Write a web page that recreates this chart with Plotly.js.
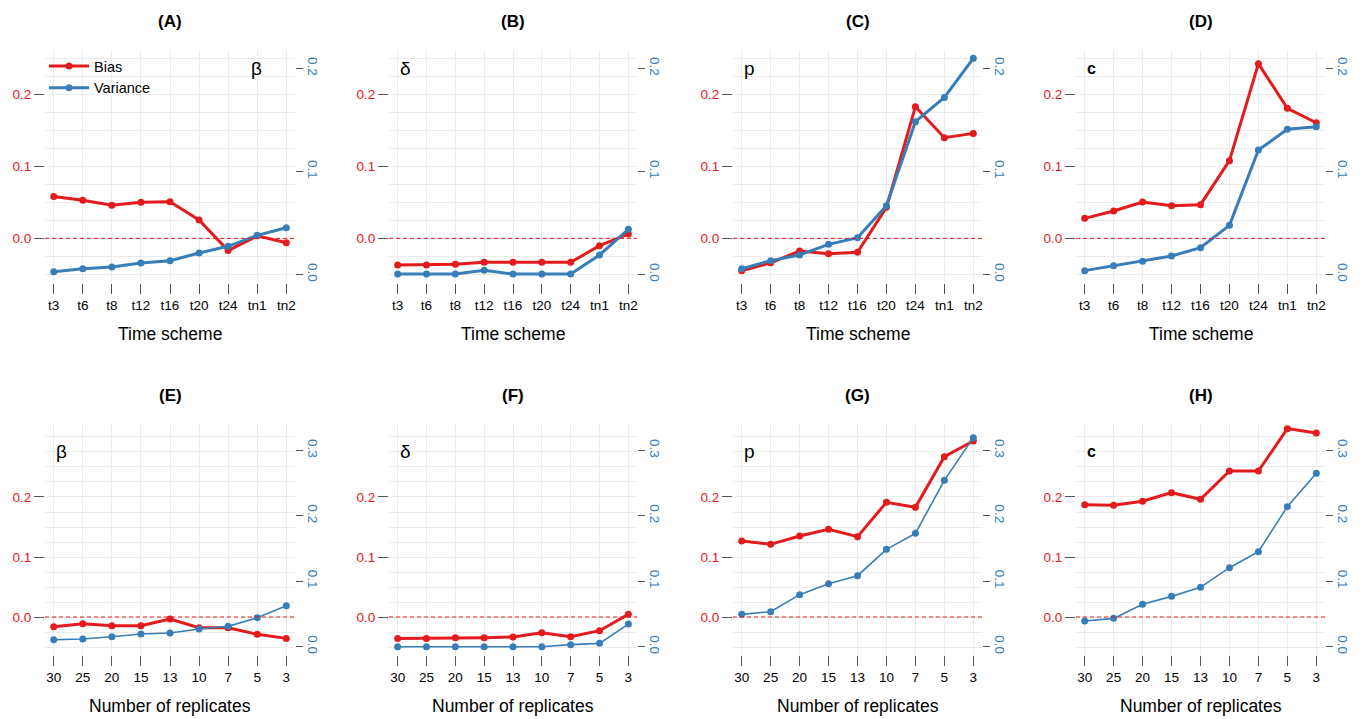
<!DOCTYPE html>
<html>
<head>
<meta charset="utf-8">
<script src="https://cdn.plot.ly/plotly-3.0.1.min.js"></script>
<style>html,body{margin:0;padding:0;background:#fff;}#chart{width:1364px;height:719px;}</style>
</head>
<body>
<div id="chart"></div>
<script>
// ---------- DATA ----------
const timeSchemes = ['t3','t6','t8','t12','t16','t20','t24','tn1','tn2'];
const replicates  = ['30','25','20','15','13','10','7','5','3'];

const panelLetters = ['(A)','(B)','(C)','(D)','(E)','(F)','(G)','(H)'];
const paramLabels  = ['β','δ','p','c','β','δ','p','c'];

// Top row: time scheme
const biasA = [0.058, 0.053, 0.046, 0.050, 0.051, 0.0255, -0.017, 0.0035, -0.006];
const varA  = [0.0026, 0.0055, 0.0071, 0.011, 0.0133, 0.0207, 0.0272, 0.0379, 0.0453];
const biasB = [-0.037, -0.037, -0.036, -0.0333, -0.0333, -0.0333, -0.0333, -0.0102, 0.006];
const varB  = [0.0003, 0.0003, 0.0003, 0.0039, 0.0003, 0.0003, 0.0003, 0.0188, 0.0437];
const biasC = [-0.045, -0.034, -0.0176, -0.0213, -0.0194, 0.0431, 0.1829, 0.1398, 0.1458];
const varC  = [0.0055, 0.0133, 0.0188, 0.0291, 0.0356, 0.0667, 0.1482, 0.1718, 0.2097];
const biasD = [0.0278, 0.038, 0.0505, 0.0454, 0.0468, 0.1079, 0.2426, 0.1806, 0.1606];
const varD  = [0.0036, 0.0084, 0.0126, 0.0178, 0.0259, 0.0476, 0.1207, 0.1408, 0.1434];

// Bottom row: number of replicates
const biasE = [-0.0161, -0.0111, -0.0144, -0.0144, -0.0033, -0.0178, -0.0178, -0.0289, -0.0356];
const varE  = [0.0107, 0.0117, 0.0153, 0.0194, 0.0209, 0.027, 0.0311, 0.0443, 0.0627];
const biasF = [-0.0356, -0.0356, -0.0344, -0.0344, -0.0333, -0.0261, -0.0328, -0.0228, 0.0044];
const varF  = [0.0, 0.0, 0.0, 0.0, 0.0, 0.0, 0.0031, 0.0051, 0.0346];
const biasG = [0.1267, 0.1211, 0.135, 0.1461, 0.1339, 0.1911, 0.1828, 0.2672, 0.2933];
const varG  = [0.0494, 0.0535, 0.0795, 0.0963, 0.1085, 0.1488, 0.1732, 0.2542, 0.3194];
const biasH = [0.1872, 0.1861, 0.1928, 0.2072, 0.1961, 0.2433, 0.2433, 0.3139, 0.3067];
const varH  = [0.0392, 0.0433, 0.0647, 0.0769, 0.0907, 0.1207, 0.1452, 0.214, 0.2649];

const leftTicksTop = [0, 0.1, 0.2];
const rightTicksTop = [0, 0.1, 0.2];
const leftTicksBottom = [0, 0.1, 0.2];
const rightTicksBottom = [0, 0.1, 0.2, 0.3];

// ---------- LAYOUT ----------
const W = 1364, H = 719;
const RED = '#E41A1C', BLUE = '#377EB8', GRID = '#EBEBEB', TICK = '#555555';
const FONT = '"Liberation Sans", Arial, Helvetica, sans-serif';
const TICKSIZE = 13.5;

const biasAll = [biasA, biasB, biasC, biasD, biasE, biasF, biasG, biasH];
const varAll  = [varA, varB, varC, varD, varE, varF, varG, varH];

const xPix = [[45,295],[389,637],[733,982],[1076,1325]];
const yPixTop = [50,283], yPixBot = [423,655];
const leftRangeTop = [-0.062, 0.2616], rightRangeTop = [-0.0084, 0.2178];
const leftRangeBot = [-0.0633, 0.3233], rightRangeBot = [-0.0127, 0.3418];

const px = v => v / W;
const py = v => 1 - v / H;

const traces = [];
const layout = {
  width: W, height: H,
  margin: {l:0, r:0, t:0, b:0},
  paper_bgcolor: '#fff', plot_bgcolor: '#fff',
  font: {family: FONT, size: TICKSIZE, color: '#000'},
  showlegend: true,
  legend: {x: px(44), y: py(50), xanchor: 'left', yanchor: 'top',
           bgcolor: 'rgba(0,0,0,0)', font: {size: 14.5, family: FONT}, tracegroupgap: 0,
           itemwidth: 40},
  annotations: [], shapes: []
};

for (let i = 0; i < 8; i++) {
  const n = i + 1;
  const row = i < 4 ? 0 : 1;
  const col = i % 4;
  const cats = row === 0 ? timeSchemes : replicates;
  const yp = row === 0 ? yPixTop : yPixBot;
  const xd = [px(xPix[col][0]), px(xPix[col][1])];
  const yd = [py(yp[1]), py(yp[0])];
  const xName = 'x' + n, yL = 'y' + n, yR = 'y' + (8 + n);
  const xKey = 'xaxis' + n, yLKey = 'yaxis' + n, yRKey = 'yaxis' + (8 + n);

  layout[xKey] = {
    domain: xd, anchor: yL, type: 'category', range: [-0.3, 8.3],
    showgrid: true, gridcolor: GRID, gridwidth: 1, zeroline: false, showline: false,
    ticks: 'outside', ticklen: 10, tickcolor: TICK, tickwidth: 1,
    tickfont: {size: TICKSIZE, color: '#000'}, automargin: false, fixedrange: true
  };
  layout[yLKey] = {
    domain: yd, anchor: xName,
    range: row === 0 ? leftRangeTop : leftRangeBot,
    tickmode: 'array', tickvals: row === 0 ? leftTicksTop : leftTicksBottom,
    ticktext: (row === 0 ? leftTicksTop : leftTicksBottom).map(v => v.toFixed(1)),
    showgrid: true, gridcolor: GRID, gridwidth: 1, zeroline: false, showline: false,
    ticks: 'outside', ticklen: 10, tickcolor: TICK, tickwidth: 1,
    tickfont: {size: TICKSIZE, color: RED},
    minor: {tickmode: 'linear', tick0: 0, dtick: 0.025, showgrid: true, gridcolor: GRID, gridwidth: 1, ticks: ''},
    automargin: false, fixedrange: true
  };
  layout[yRKey] = {
    overlaying: yL, side: 'right', anchor: xName,
    range: row === 0 ? rightRangeTop : rightRangeBot,
    tickmode: 'array', tickvals: row === 0 ? rightTicksTop : rightTicksBottom,
    ticktext: (row === 0 ? rightTicksTop : rightTicksBottom).map(v => v.toFixed(1)),
    showgrid: false, zeroline: false, showline: false,
    ticks: 'outside', ticklen: 7, tickcolor: TICK, tickwidth: 1,
    tickangle: 90, tickfont: {size: TICKSIZE, color: BLUE},
    automargin: false, fixedrange: true
  };

  // zero reference line (dashed red)
  layout.shapes.push({
    type: 'line', xref: xName + ' domain', yref: yL, x0: 0, x1: 1, y0: 0, y1: 0,
    line: {color: RED, width: 1, dash: '4px,3px'}, layer: 'above'
  });

  traces.push({
    x: cats, y: biasAll[i], xaxis: xName, yaxis: yL, type: 'scatter', mode: 'lines+markers',
    name: 'Bias', legendgroup: 'bias', showlegend: i === 0,
    line: {color: RED, width: 3}, marker: {color: RED, size: 7}, cliponaxis: false, hoverinfo: 'skip'
  });
  traces.push({
    x: cats, y: varAll[i], xaxis: xName, yaxis: yR, type: 'scatter', mode: 'lines+markers',
    name: 'Variance', legendgroup: 'var', showlegend: i === 0,
    line: {color: BLUE, width: row === 0 ? 3 : 1.6}, marker: {color: BLUE, size: 7}, cliponaxis: false, hoverinfo: 'skip'
  });

  const cx = (xPix[col][0] + xPix[col][1]) / 2;
  // panel letter
  layout.annotations.push({
    text: '<b>' + panelLetters[i] + '</b>', xref: 'paper', yref: 'paper',
    x: px(cx), y: py(row === 0 ? 21 : 395), xanchor: 'center', yanchor: 'middle',
    showarrow: false, font: {size: 17, family: FONT, color: '#000'}
  });
  // axis title
  layout.annotations.push({
    text: row === 0 ? 'Time scheme' : 'Number of replicates', xref: 'paper', yref: 'paper',
    x: px(cx), y: py(row === 0 ? 334 : 706), xanchor: 'center', yanchor: 'middle',
    showarrow: false, font: {size: 17.5, family: FONT, color: '#000'}
  });
  // parameter label
  const lbl = paramLabels[i];
  const isCornerRight = (i === 0);
  layout.annotations.push({
    text: lbl === 'c' ? '<b>c</b>' : lbl, xref: 'paper', yref: 'paper',
    x: px(isCornerRight ? 256 : xPix[col][0] + 9),
    y: py(row === 0 ? 68 : 452),
    xanchor: isCornerRight ? 'center' : 'left', yanchor: 'middle',
    showarrow: false, font: {size: lbl === 'c' ? 16 : 19, family: FONT, color: '#000'}
  });
}

Plotly.newPlot('chart', traces, layout, {displayModeBar: false, staticPlot: true});
</script>
</body>
</html>
